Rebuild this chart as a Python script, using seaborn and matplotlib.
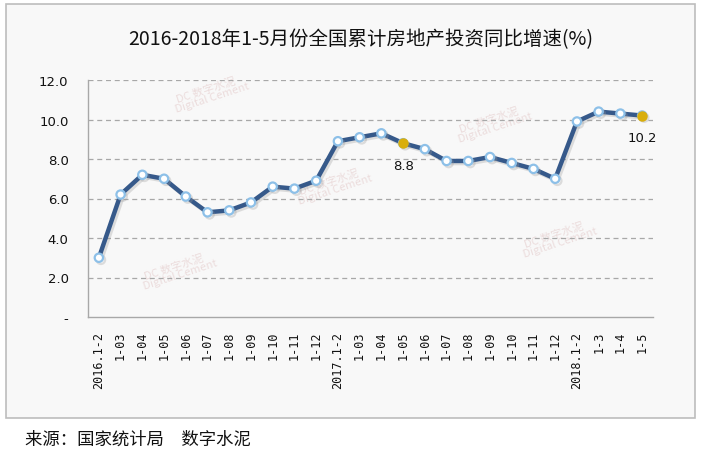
import numpy as np
import pandas as pd
import matplotlib
matplotlib.use('Agg')
import matplotlib.pyplot as plt
import matplotlib.patheffects as pe
from matplotlib.patches import Rectangle
import seaborn as sns

# data
periods = ['2016.1-2', '1-03', '1-04', '1-05', '1-06', '1-07', '1-08', '1-09', '1-10', '1-11', '1-12',
           '2017.1-2', '1-03', '1-04', '1-05', '1-06', '1-07', '1-08', '1-09', '1-10', '1-11', '1-12',
           '2018.1-2', '1-3', '1-4', '1-5']
growth = [3.0, 6.2, 7.2, 7.0, 6.1, 5.3, 5.4, 5.8, 6.6, 6.5, 6.9,
          8.9, 9.1, 9.3, 8.8, 8.5, 7.9, 7.9, 8.1, 7.8, 7.5, 7.0,
          9.9, 10.4, 10.3, 10.2]
highlight = [14, 25]   # 2017 1-5 and 2018 1-5
y_ticks = [0, 2, 4, 6, 8, 10, 12]
y_ticklabels = ['-', '2.0', '4.0', '6.0', '8.0', '10.0', '12.0']

df = pd.DataFrame({'pos': np.arange(len(periods)), 'growth': growth})

sns.set_style('white')
plt.rcParams['font.family'] = ['Noto Sans CJK SC', 'DejaVu Sans']

fig = plt.figure(figsize=(7.02, 4.52), dpi=100)
fig.patch.set_facecolor('white')
# outer frame
fig.patches.append(Rectangle((6 / 702, 1 - 419 / 452), 689 / 702, 414 / 452,
                             transform=fig.transFigure, facecolor='#F8F8F8',
                             edgecolor='#BDBDBD', linewidth=1.2, zorder=-5))

# faint watermarks
for wx, wy in [(207, 95), (330, 187), (175, 272), (490, 125), (555, 240)]:
    fig.text(wx / 702, 1 - wy / 452, 'DC 数字水泥\n   Digital Cement', ha='center', va='center',
             fontsize=8, rotation=18, color='#E3C9C9', alpha=0.6, linespacing=0.9,
             family=['Noto Sans CJK SC', 'DejaVu Serif'], zorder=-4)

ax = fig.add_axes([88 / 702, 1 - 318 / 452, 565 / 702, 237 / 452])
ax.set_facecolor('none')

sns.lineplot(data=df, x='pos', y='growth', ax=ax, color='#36598A', linewidth=3.2,
             marker='o', markersize=6, markerfacecolor='white',
             markeredgecolor='#8DC0E8', markeredgewidth=1.6,
             path_effects=[pe.SimpleLineShadow(offset=(1.5, -1.5), shadow_color='#9A9A9A', alpha=0.3),
                           pe.Normal()])

for i in highlight:
    ax.plot(df.pos[i], df.growth[i], 'o', color='#D9AE0C', markersize=6.5, zorder=5)
    ax.annotate(f'{growth[i]:.1f}', (df.pos[i], df.growth[i]), xytext=(0, -16),
                textcoords='offset points', ha='center', va='center',
                fontsize=9.5, family='DejaVu Sans', color='#111111')

ax.set_xlim(-0.5, len(periods) - 0.5)
ax.set_ylim(0, 12)
ax.set_yticks(y_ticks)
ax.set_yticklabels(y_ticklabels, family='DejaVu Sans', fontsize=9.5, color='#111111')
ax.set_xticks(df.pos)
ax.set_xticklabels(periods, rotation=90, family='DejaVu Sans Mono', fontsize=8.5, color='#111111')
ax.set_xticks(np.arange(-0.5, len(periods)), minor=True)
ax.tick_params(axis='x', which='major', length=0, pad=10)
ax.tick_params(axis='x', which='minor', length=4, color='#A0A0A0', width=1, direction='out')
ax.tick_params(axis='y', length=0, pad=14)

for y in y_ticks[1:]:
    ax.axhline(y, color='#A8A8A8', linewidth=0.9, linestyle=(0, (4, 3)), zorder=0)

for s in ['top', 'right']:
    ax.spines[s].set_visible(False)
for s in ['left', 'bottom']:
    ax.spines[s].set_color('#A8A8A8')
    ax.spines[s].set_linewidth(1)

ax.set_xlabel('')
ax.set_ylabel('')

fig.text(361 / 702, 1 - 40 / 452, '2016-2018年1-5月份全国累计房地产投资同比增速(%)',
         ha='center', va='center', fontsize=14, color='#111111')
fig.text(25 / 702, 1 - 440 / 452, '来源：国家统计局　数字水泥',
         ha='left', va='center', fontsize=12.5, color='#111111')

fig.savefig('out.png', dpi=100)
